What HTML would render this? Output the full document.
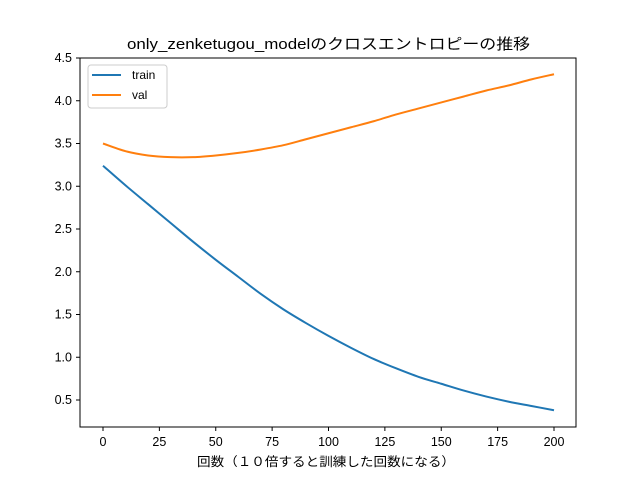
<!DOCTYPE html>
<html><head><meta charset="utf-8"><style>
body{margin:0;background:#fff}
text{font-family:"Liberation Sans","Noto Sans CJK JP",sans-serif;fill:#000}
</style></head><body>
<svg id="chart" width="640" height="480" xmlns="http://www.w3.org/2000/svg">
<rect width="640" height="480" fill="#fff"/>
<text x="127" y="49" font-size="15" textLength="403" lengthAdjust="spacingAndGlyphs">only_zenketugou_modelのクロスエントロピーの推移</text>
<text x="197" y="466" font-size="12.5" textLength="258" lengthAdjust="spacingAndGlyphs">回数（１０倍すると訓練した回数になる）</text>
<g id="marks"></g>
<rect x="80" y="58" width="496" height="369" fill="none" stroke="#000" stroke-width="1"/>
<g id="ticks"></g>
<g>
<rect x="88" y="65" width="79" height="43" rx="3" fill="#fff" fill-opacity="0.8" stroke="#ccc"/>
<line x1="92" y1="75" x2="121" y2="75" stroke="#1f77b4" stroke-width="2"/>
<text x="132" y="79" font-size="12">train</text>
<line x1="92" y1="95" x2="121" y2="95" stroke="#ff7f0e" stroke-width="2"/>
<text x="132" y="99" font-size="12">val</text>
</g>
</svg>
<script>
const epochs=[0,10,20,30,40,50,60,70,80,90,100,110,120,130,140,150,160,170,180,190,200];
const trainLoss=[3.24,3.01,2.79,2.57,2.35,2.14,1.94,1.74,1.56,1.40,1.25,1.11,0.98,0.87,0.77,0.69,0.61,0.54,0.48,0.43,0.38];
const valLoss=[3.50,3.41,3.36,3.34,3.34,3.36,3.39,3.43,3.48,3.55,3.62,3.69,3.76,3.84,3.91,3.98,4.05,4.12,4.18,4.25,4.31];
const xTicks=[0,25,50,75,100,125,150,175,200];
const yTicks=[0.5,1.0,1.5,2.0,2.5,3.0,3.5,4.0,4.5];
const NS="http://www.w3.org/2000/svg";
const xs=v=>103+(v-0)*(554-103)/200;
const ys=v=>400-(v-0.5)*(400-58)/4;
function smooth(xv,yv){
  const p=xv.map((x,i)=>[xs(x),ys(yv[i])]);
  let d="M"+p[0][0]+","+p[0][1];
  for(let i=0;i<p.length-1;i++){
    const p0=p[i-1]||p[i],p1=p[i],p2=p[i+1],p3=p[i+2]||p2;
    d+=" C"+(p1[0]+(p2[0]-p0[0])/6)+","+(p1[1]+(p2[1]-p0[1])/6)+" "+(p2[0]-(p3[0]-p1[0])/6)+","+(p2[1]-(p3[1]-p1[1])/6)+" "+p2[0]+","+p2[1];
  }
  return d;
}
const marks=document.getElementById('marks');
[[trainLoss,'#1f77b4','train-line'],[valLoss,'#ff7f0e','val-line']].forEach(([s,c,n])=>{
  const el=document.createElementNS(NS,'path');
  el.setAttribute('d',smooth(epochs,s));
  el.setAttribute('fill','none');el.setAttribute('stroke',c);el.setAttribute('stroke-width','2');
  
  
  marks.appendChild(el);
});
const tk=document.getElementById('ticks');
xTicks.forEach(v=>{
  const l=document.createElementNS(NS,'line');
  l.setAttribute('x1',xs(v));l.setAttribute('x2',xs(v));l.setAttribute('y1',427);l.setAttribute('y2',431);l.setAttribute('stroke','#000');
  
  
  tk.appendChild(l);
  const t=document.createElementNS(NS,'text');
  t.setAttribute('x',xs(v));t.setAttribute('y',446);t.setAttribute('font-size','12.5');t.setAttribute('text-anchor','middle');
  t.textContent=v;
  
  
  tk.appendChild(t);
});
yTicks.forEach(v=>{
  const l=document.createElementNS(NS,'line');
  l.setAttribute('x1',76);l.setAttribute('x2',80);l.setAttribute('y1',ys(v));l.setAttribute('y2',ys(v));l.setAttribute('stroke','#000');
  
  
  tk.appendChild(l);
  const t=document.createElementNS(NS,'text');
  t.setAttribute('x',72);t.setAttribute('y',ys(v)+4);t.setAttribute('font-size','12.5');t.setAttribute('text-anchor','end');
  t.textContent=v.toFixed(1);
  
  
  tk.appendChild(t);
});
</script>
</body></html>
